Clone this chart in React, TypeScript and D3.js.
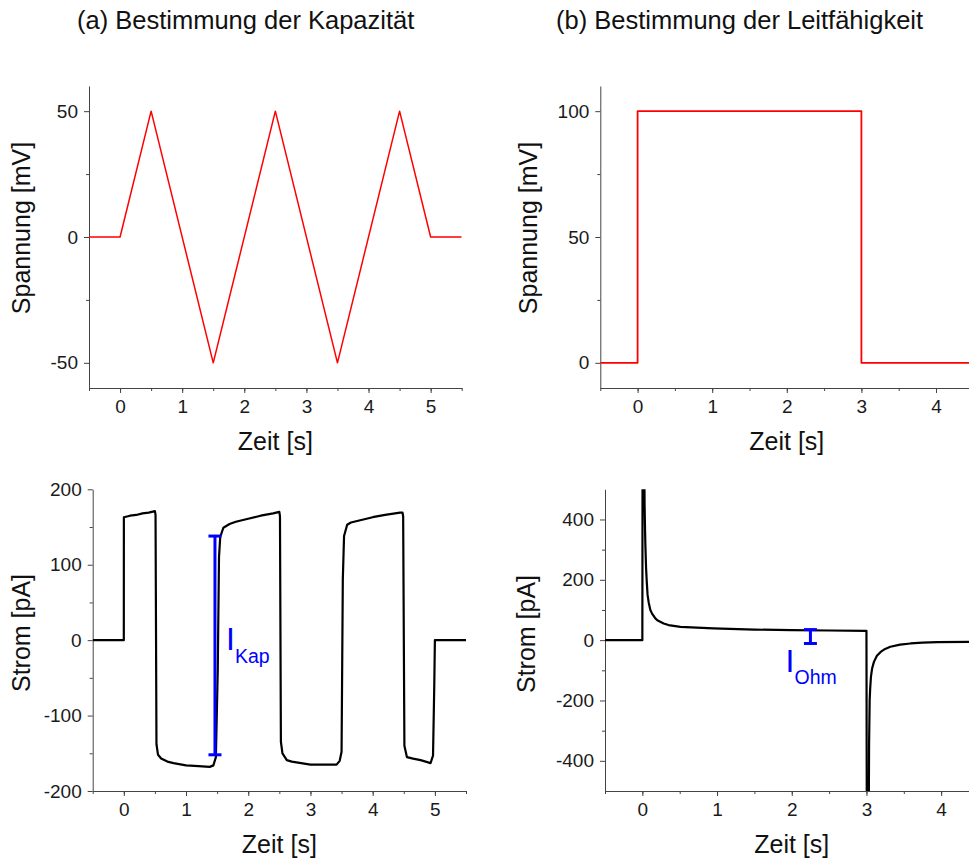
import { useEffect, useRef } from "react";
import * as d3 from "d3";

const FONT = "'Liberation Sans', Arial, sans-serif";

// (a) Dreieckspannung
const triT = [-0.5, 0, 0.5, 1.5, 2.5, 3.5, 4.5, 5, 5.5];
const triV = [0, 0, 50, -50, 50, -50, 50, 0, 0];

// (b) Rechteckspannung
const stepT = [-0.5, 0, 0, 3, 3, 4.5];
const stepV = [0, 0, 100, 100, 0, 0];

// (a) Stromantwort
const kapT = [
  -0.5, 0, 0.001, 0.1, 0.2, 0.3, 0.4, 0.5, 0.51, 0.525, 0.55, 0.6, 0.7, 0.8, 1.0, 1.2, 1.38, 1.44, 1.48,
  1.51, 1.53, 1.55, 1.6, 1.7, 1.8, 2.0, 2.2, 2.4, 2.5, 2.51, 2.525, 2.55, 2.62, 2.7, 2.85, 3.0, 3.2, 3.42,
  3.47, 3.5, 3.52, 3.54, 3.59, 3.65, 3.8, 4.0, 4.2, 4.44, 4.48, 4.49, 4.51, 4.55, 4.65, 4.77, 4.93, 4.97,
  4.99, 5.0, 5.5,
];
const kapI = [
  0, 0, 163, 165, 166, 168, 169, 171, 166, -138, -152, -157, -161, -163, -166, -167, -168, -166, -155,
  -40, 110, 137, 149, 154, 157, 161, 165, 168, 170, 164, -135, -150, -159, -161, -163, -165, -165, -165,
  -160, -148, 80, 138, 153, 156, 159, 163, 166, 169, 169, 164, -140, -155, -157, -159, -163, -153,
  -60, 0, 0,
];

// (b) Stromantwort
const ohmT = [
  -0.5, 0, 0.003, 0.025, 0.03, 0.035, 0.04, 0.05, 0.06, 0.07, 0.085, 0.107, 0.13, 0.174, 0.2, 0.285, 0.35,
  0.51, 0.95, 1.5, 2.0, 2.5, 2.99, 3.0, 3.005, 3.03, 3.035, 3.043, 3.05, 3.06, 3.075, 3.1, 3.14, 3.19, 3.25,
  3.32, 3.45, 3.59, 3.75, 3.95, 4.38, 4.5,
];
const ohmI = [
  0, 0, 650, 650, 448, 380, 320, 238, 190, 150, 125, 100, 88, 72, 66, 55, 50,
  44, 39, 35, 33, 32, 31, 31, -650, -650, -350, -199, -160, -122, -95, -72, -52, -39, -29,
  -22, -15, -11, -8, -6.6, -5.5, -5,
];

// Messbalken
const kapBar = { t: 1.465, lo: -152, hi: 138, labelT: 1.643, labelV: -13.3, sub: "Kap" };
const ohmBar = { t: 2.25, lo: -11, hi: 35, labelT: 1.918, labelV: -105, sub: "Ohm" };

const range = (a: number, b: number, s: number) => d3.range(a, b + s / 2, s);

type Panel = {
  id: string;
  left: number;
  right: number;
  top: number;
  bottom: number;
  xDomain: [number, number];
  yDomain: [number, number];
  xMajor: number[];
  xMinor: number[];
  yMajor: number[];
  yMinor: number[];
  yLabel: string;
  yLabelX: number;
  yLabelY: number;
  t: number[];
  v: number[];
  color: string;
  width: number;
  bar?: typeof kapBar;
};

const panels: Panel[] = [
  {
    id: "aTop", left: 89, right: 461.7, top: 86, bottom: 388,
    xDomain: [-0.5, 5.5], yDomain: [-60, 60],
    xMajor: range(0, 5, 1), xMinor: range(-0.5, 5.5, 0.5),
    yMajor: [-50, 0, 50], yMinor: [-25, 25],
    yLabel: "Spannung [mV]", yLabelX: 30, yLabelY: 228,
    t: triT, v: triV, color: "#ff0000", width: 1.5,
  },
  {
    id: "bTop", left: 600.3, right: 973.3, top: 86, bottom: 388,
    xDomain: [-0.5, 4.5], yDomain: [-10, 110],
    xMajor: range(0, 4, 1), xMinor: range(-0.5, 4.5, 0.5),
    yMajor: [0, 50, 100], yMinor: [25, 75],
    yLabel: "Spannung [mV]", yLabelX: 537, yLabelY: 228,
    t: stepT, v: stepV, color: "#ff0000", width: 1.8,
  },
  {
    id: "aBot", left: 92.7, right: 466, top: 489.3, bottom: 791,
    xDomain: [-0.5, 5.5], yDomain: [-200, 200],
    xMajor: range(0, 5, 1), xMinor: range(-0.5, 5.5, 0.5),
    yMajor: [-200, -100, 0, 100, 200], yMinor: [-150, -50, 50, 150],
    yLabel: "Strom [pA]", yLabelX: 30, yLabelY: 633,
    t: kapT, v: kapI, color: "#000000", width: 2.2, bar: kapBar,
  },
  {
    id: "bBot", left: 605, right: 978.5, top: 489.3, bottom: 791,
    xDomain: [-0.5, 4.5], yDomain: [-500, 500],
    xMajor: range(0, 4, 1), xMinor: range(-0.5, 4.5, 0.5),
    yMajor: [-400, -200, 0, 200, 400], yMinor: [-300, -100, 100, 300],
    yLabel: "Strom [pA]", yLabelX: 535, yLabelY: 634,
    t: ohmT, v: ohmI, color: "#000000", width: 2.2, bar: ohmBar,
  },
];

const titles = [
  { text: "(a) Bestimmung der Kapazität", x: 77 },
  { text: "(b) Bestimmung der Leitfähigkeit", x: 556 },
];

const fmt = (d: d3.NumberValue) => String(d);

function drawPanel(svg: d3.Selection<SVGSVGElement, unknown, null, undefined>, p: Panel) {
  const x = d3.scaleLinear().domain(p.xDomain).range([p.left, p.right]);
  const y = d3.scaleLinear().domain(p.yDomain).range([p.bottom, p.top]);

  const styleAxis = (g: d3.Selection<SVGGElement, unknown, null, undefined>) => {
    g.attr("font-family", FONT).attr("font-size", 19).attr("color", "#1a1a1a");
    g.selectAll("line, path").attr("stroke", "#444").attr("stroke-width", 1);
  };

  // minor ticks
  const mx = svg.append("g").attr("transform", `translate(0,${p.bottom})`)
    .call(d3.axisBottom(x).tickValues(p.xMinor).tickSize(3).tickFormat(() => ""));
  mx.select(".domain").remove();
  styleAxis(mx);
  const my = svg.append("g").attr("transform", `translate(${p.left},0)`)
    .call(d3.axisLeft(y).tickValues(p.yMinor).tickSize(3).tickFormat(() => ""));
  my.select(".domain").remove();
  styleAxis(my);

  // major ticks + axis lines
  const gx = svg.append("g").attr("transform", `translate(0,${p.bottom})`)
    .call(d3.axisBottom(x).tickValues(p.xMajor).tickSize(5).tickSizeOuter(0).tickPadding(6.5).tickFormat(fmt));
  styleAxis(gx);
  const gy = svg.append("g").attr("transform", `translate(${p.left},0)`)
    .call(d3.axisLeft(y).tickValues(p.yMajor).tickSize(5).tickSizeOuter(0).tickPadding(6).tickFormat(fmt));
  styleAxis(gy);

  // axis titles
  svg.append("text")
    .attr("x", (p.left + p.right) / 2).attr("y", p.bottom + 62)
    .attr("text-anchor", "middle").attr("font-family", FONT).attr("font-size", 25).attr("fill", "#111")
    .text("Zeit [s]");
  svg.append("text")
    .attr("transform", `translate(${p.yLabelX},${p.yLabelY}) rotate(-90)`)
    .attr("text-anchor", "middle").attr("font-family", FONT).attr("font-size", 25).attr("fill", "#111")
    .text(p.yLabel);

  // data
  const clipId = `clip-${p.id}`;
  svg.append("clipPath").attr("id", clipId)
    .append("rect").attr("x", p.left).attr("y", p.top).attr("width", p.right - p.left).attr("height", p.bottom - p.top);
  const line = d3.line<number>().x((i) => x(p.t[i])).y((i) => y(p.v[i]));
  svg.append("path")
    .datum(d3.range(p.t.length))
    .attr("clip-path", `url(#${clipId})`)
    .attr("fill", "none").attr("stroke", p.color).attr("stroke-width", p.width)
    .attr("stroke-linejoin", "round")
    .attr("d", line);

  if (p.bar) {
    const b = p.bar;
    const g = svg.append("g").attr("stroke", "#0000ff").attr("stroke-width", 3);
    g.append("line").attr("x1", x(b.t)).attr("x2", x(b.t)).attr("y1", y(b.lo)).attr("y2", y(b.hi));
    [b.lo, b.hi].forEach((v) => {
      g.append("line").attr("x1", x(b.t) - 6.5).attr("x2", x(b.t) + 6.5).attr("y1", y(v)).attr("y2", y(v));
    });
    const txt = svg.append("text").attr("x", x(b.labelT)).attr("y", y(b.labelV))
      .attr("font-family", FONT).attr("fill", "#0000ff");
    txt.append("tspan").attr("font-size", 32).text("I");
    txt.append("tspan").attr("font-size", 19.5).attr("dy", 12.5).text(b.sub);
  }
}

export default function App() {
  const svgRef = useRef<SVGSVGElement | null>(null);

  useEffect(() => {
    const svg = d3.select(svgRef.current as SVGSVGElement);
    svg.selectAll("*").remove();

    titles.forEach((t) => {
      svg.append("text")
        .attr("x", t.x).attr("y", 29)
        .attr("font-family", FONT).attr("font-size", 25.5).attr("fill", "#111")
        .text(t.text);
    });

    panels.forEach((p) => drawPanel(svg, p));
  }, []);

  return (
    <svg
      ref={svgRef}
      width={969}
      height={859}
      style={{ position: "absolute", left: 0, top: 0, background: "#fff" }}
    />
  );
}
